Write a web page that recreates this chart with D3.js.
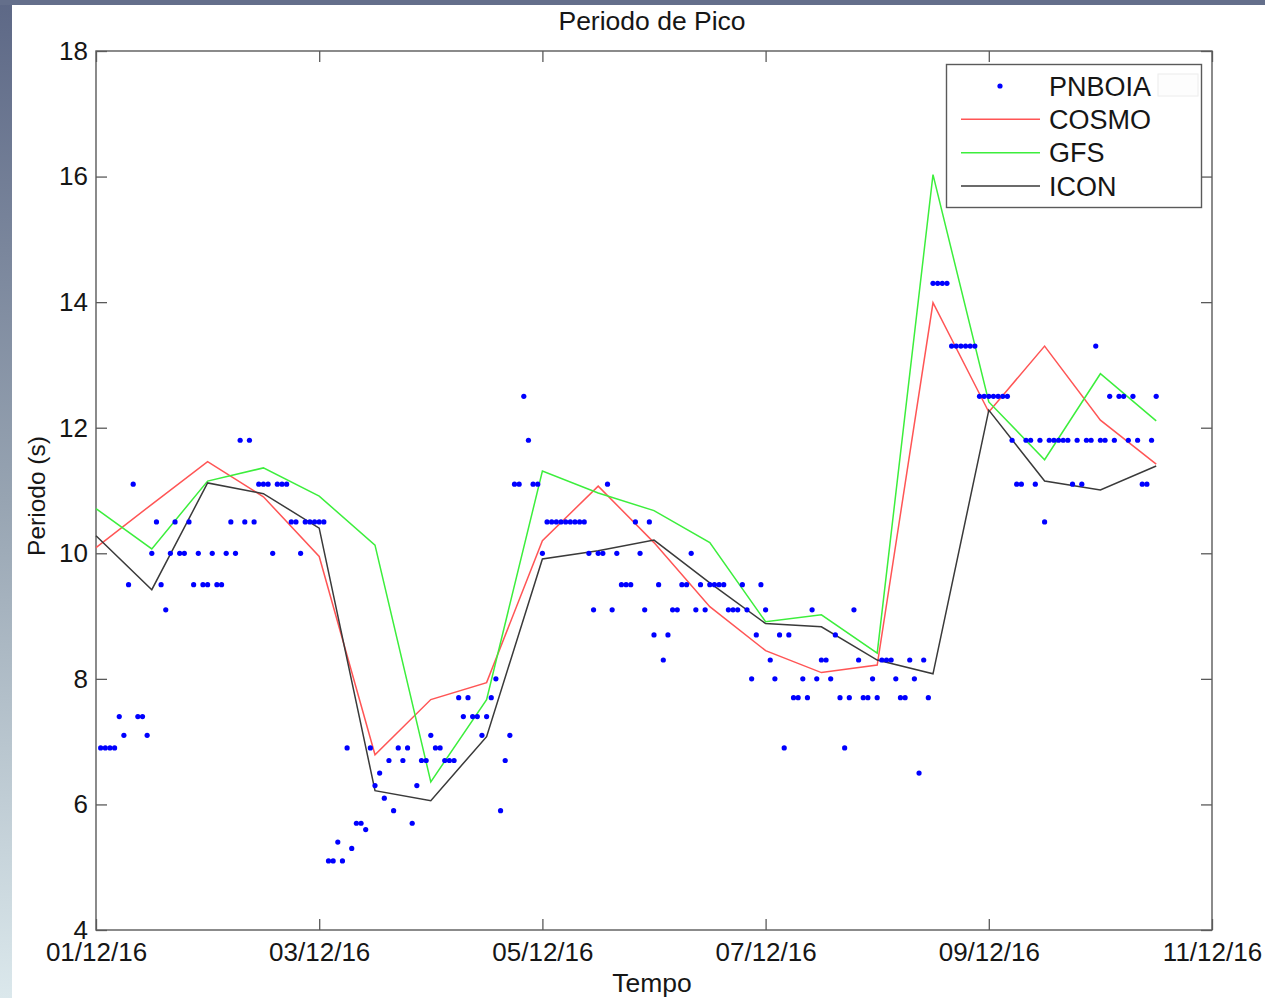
<!DOCTYPE html>
<html>
<head>
<meta charset="utf-8">
<script src="https://cdn.jsdelivr.net/npm/d3@7"></script>
<style>
  html, body { margin: 0; padding: 0; background: #fff; }
  svg { display: block; font-family: "Liberation Sans", Arial, sans-serif; }
</style>
</head>
<body>
<div id="chart"></div>
<script>
// model runs, every 12 hours from 01/12/16 00:00
var modelHours = [0, 12, 24, 36, 48, 60, 72, 84, 96, 108, 120, 132, 144, 156, 168, 180, 192, 204, 216, 228];
var cosmo = [10.09, 10.78, 11.46, 10.9, 9.95, 6.79, 7.67, 7.94, 10.2, 11.07, 10.17, 9.15, 8.45, 8.1, 8.22, 13.99, 12.25, 13.3, 12.12, 11.42];
var gfs   = [10.71, 10.07, 11.15, 11.36, 10.91, 10.13, 6.36, 7.67, 11.31, 10.96, 10.68, 10.17, 8.91, 9.02, 8.41, 16.03, 12.41, 11.49, 12.86, 12.11];
var icon  = [10.28, 9.42, 11.12, 10.95, 10.4, 6.22, 6.06, 7.08, 9.91, 10.04, 10.21, 9.53, 8.88, 8.83, 8.3, 8.08, 12.28, 11.15, 11.01, 11.39];

// buoy, hourly from 01/12/16 01:00
var buoyFirstHour = 1;
var pnboia = [
  6.9, 6.9, 6.9, 6.9, 7.4, 7.1, 9.5, 11.1, 7.4, 7.4, 7.1, 10.0,
  10.5, 9.5, 9.1, 10.0, 10.5, 10.0, 10.0, 10.5, 9.5, 10.0, 9.5, 9.5,
  10.0, 9.5, 9.5, 10.0, 10.5, 10.0, 11.8, 10.5, 11.8, 10.5, 11.1, 11.1,
  11.1, 10.0, 11.1, 11.1, 11.1, 10.5, 10.5, 10.0, 10.5, 10.5, 10.5, 10.5,
  10.5, 5.1, 5.1, 5.4, 5.1, 6.9, 5.3, 5.7, 5.7, 5.6, 6.9, 6.3,
  6.5, 6.1, 6.7, 5.9, 6.9, 6.7, 6.9, 5.7, 6.3, 6.7, 6.7, 7.1,
  6.9, 6.9, 6.7, 6.7, 6.7, 7.7, 7.4, 7.7, 7.4, 7.4, 7.1, 7.4,
  7.7, 8.0, 5.9, 6.7, 7.1, 11.1, 11.1, 12.5, 11.8, 11.1, 11.1, 10.0,
  10.5, 10.5, 10.5, 10.5, 10.5, 10.5, 10.5, 10.5, 10.5, 10.0, 9.1, 10.0,
  10.0, 11.1, 9.1, 10.0, 9.5, 9.5, 9.5, 10.5, 10.0, 9.1, 10.5, 8.7,
  9.5, 8.3, 8.7, 9.1, 9.1, 9.5, 9.5, 10.0, 9.1, 9.5, 9.1, 9.5,
  9.5, 9.5, 9.5, 9.1, 9.1, 9.1, 9.5, 9.1, 8.0, 8.7, 9.5, 9.1,
  8.3, 8.0, 8.7, 6.9, 8.7, 7.7, 7.7, 8.0, 7.7, 9.1, 8.0, 8.3,
  8.3, 8.0, 8.7, 7.7, 6.9, 7.7, 9.1, 8.3, 7.7, 7.7, 8.0, 7.7,
  8.3, 8.3, 8.3, 8.0, 7.7, 7.7, 8.3, 8.0, 6.5, 8.3, 7.7, 14.3,
  14.3, 14.3, 14.3, 13.3, 13.3, 13.3, 13.3, 13.3, 13.3, 12.5, 12.5, 12.5,
  12.5, 12.5, 12.5, 12.5, 11.8, 11.1, 11.1, 11.8, 11.8, 11.1, 11.8, 10.5,
  11.8, 11.8, 11.8, 11.8, 11.8, 11.1, 11.8, 11.1, 11.8, 11.8, 13.3, 11.8,
  11.8, 12.5, 11.8, 12.5, 12.5, 11.8, 12.5, 11.8, 11.1, 11.1, 11.8, 12.5
];

var yTicks = [4, 6, 8, 10, 12, 14, 16, 18];
var xTickDays = [1, 3, 5, 7, 9, 11];
var seriesNames = ["PNBOIA", "COSMO", "GFS", "ICON"];

var width = 1265, height = 998;
var t0 = new Date(2016, 11, 1);
var hourToDate = function (h) { return d3.timeHour.offset(t0, h); };

var svg = d3.select("#chart").append("svg")
    .attr("width", width)
    .attr("height", height);

// slide background strips
var grad = svg.append("defs").append("linearGradient")
    .attr("id", "side").attr("x1", 0).attr("y1", 0).attr("x2", 0).attr("y2", 1);
grad.append("stop").attr("offset", "0%").attr("stop-color", "#5d6886");
grad.append("stop").attr("offset", "50%").attr("stop-color", "#97a4b2");
grad.append("stop").attr("offset", "100%").attr("stop-color", "#dbe8ec");
svg.append("rect").attr("width", 12).attr("height", height).style("fill", "url(#side)");
svg.append("rect").attr("width", width).attr("height", 5).style("fill", "#646f8b");

var x = d3.scaleTime()
    .domain([t0, new Date(2016, 11, 11)])
    .range([96, 1212]);
var y = d3.scaleLinear()
    .domain([4, 18])
    .range([930, 51]);

var axisColor = "#5a5a5a";
var textColor = "#161616";
var tickFmt = d3.timeFormat("%d/%m/%y");
var xTickVals = xTickDays.map(function (d) { return new Date(2016, 11, d); });

var styleAxis = function (g, size) {
    g.select(".domain").remove();
    g.selectAll(".tick line").attr("stroke", axisColor).attr("stroke-width", 1.3);
    g.selectAll(".tick text").attr("fill", textColor).style("font-size", size);
};

svg.append("g")
    .attr("transform", "translate(0,930)")
    .call(d3.axisBottom(x).tickValues(xTickVals).tickFormat(tickFmt).tickSize(-11).tickPadding(13))
    .call(styleAxis, "26px");
svg.append("g")
    .attr("transform", "translate(0,51)")
    .call(d3.axisTop(x).tickValues(xTickVals).tickFormat("").tickSize(-11))
    .call(styleAxis, "26px");
svg.append("g")
    .attr("transform", "translate(96,0)")
    .call(d3.axisLeft(y).tickValues(yTicks).tickSize(-11).tickPadding(8))
    .call(styleAxis, "26px");
svg.append("g")
    .attr("transform", "translate(1212,0)")
    .call(d3.axisRight(y).tickValues(yTicks).tickFormat("").tickSize(-11))
    .call(styleAxis, "26px");

svg.append("rect")
    .attr("x", 96).attr("y", 51)
    .attr("width", 1212 - 96).attr("height", 930 - 51)
    .style("fill", "none")
    .style("stroke", axisColor)
    .style("stroke-width", 1.4);

// lines
var line = d3.line()
    .x(function (d, i) { return x(hourToDate(modelHours[i])); })
    .y(function (d) { return y(d); });

var models = [
    { name: "COSMO", values: cosmo, color: "#ff5555" },
    { name: "GFS", values: gfs, color: "#3cee3c" },
    { name: "ICON", values: icon, color: "#3a3a3a" }
];

svg.selectAll("path.model")
    .data(models)
    .enter().append("path")
    .attr("class", "model")
    .attr("d", function (d) { return line(d.values); })
    .style("fill", "none")
    .style("stroke", function (d) { return d.color; })
    .style("stroke-width", 1.5);

svg.selectAll("circle.buoy")
    .data(pnboia)
    .enter().append("circle")
    .attr("class", "buoy")
    .attr("cx", function (d, i) { return x(hourToDate(buoyFirstHour + i)); })
    .attr("cy", function (d) { return y(d); })
    .attr("r", 2.6)
    .style("fill", "#0000ff");

// titles
svg.append("text")
    .text("Periodo de Pico")
    .attr("x", 652).attr("y", 30)
    .attr("text-anchor", "middle")
    .style("font-size", "26.5px")
    .attr("fill", textColor);

svg.append("text")
    .text("Tempo")
    .attr("x", 652).attr("y", 992)
    .attr("text-anchor", "middle")
    .style("font-size", "26.5px")
    .attr("fill", textColor);

svg.append("text")
    .text("Periodo (s)")
    .attr("transform", "translate(45,496) rotate(-90)")
    .attr("text-anchor", "middle")
    .style("font-size", "24.5px")
    .attr("fill", textColor);

// legend
var legend = svg.append("g");
legend.append("rect")
    .attr("x", 946.5).attr("y", 64.5)
    .attr("width", 255).attr("height", 143)
    .style("fill", "#fff")
    .style("stroke", axisColor)
    .style("stroke-width", 1.4);

legend.append("rect")
    .attr("x", 1158).attr("y", 74)
    .attr("width", 40).attr("height", 22)
    .style("fill", "#fdfdfd")
    .style("stroke", "#ececec");

var rowY = d3.scalePoint().domain(seriesNames).range([86, 186]);

legend.append("circle")
    .attr("cx", 1000).attr("cy", rowY("PNBOIA"))
    .attr("r", 2.6)
    .style("fill", "#0000ff");

legend.selectAll("line.key")
    .data(models)
    .enter().append("line")
    .attr("class", "key")
    .attr("x1", 961).attr("x2", 1040)
    .attr("y1", function (d) { return rowY(d.name); })
    .attr("y2", function (d) { return rowY(d.name); })
    .style("stroke", function (d) { return d.color; })
    .style("stroke-width", 1.5);

legend.selectAll("text.key")
    .data(seriesNames)
    .enter().append("text")
    .attr("class", "key")
    .attr("x", 1049)
    .attr("y", function (d) { return rowY(d); })
    .attr("dy", "0.36em")
    .text(function (d) { return d; })
    .style("font-size", "27px")
    .attr("fill", textColor);
</script>
</body>
</html>
